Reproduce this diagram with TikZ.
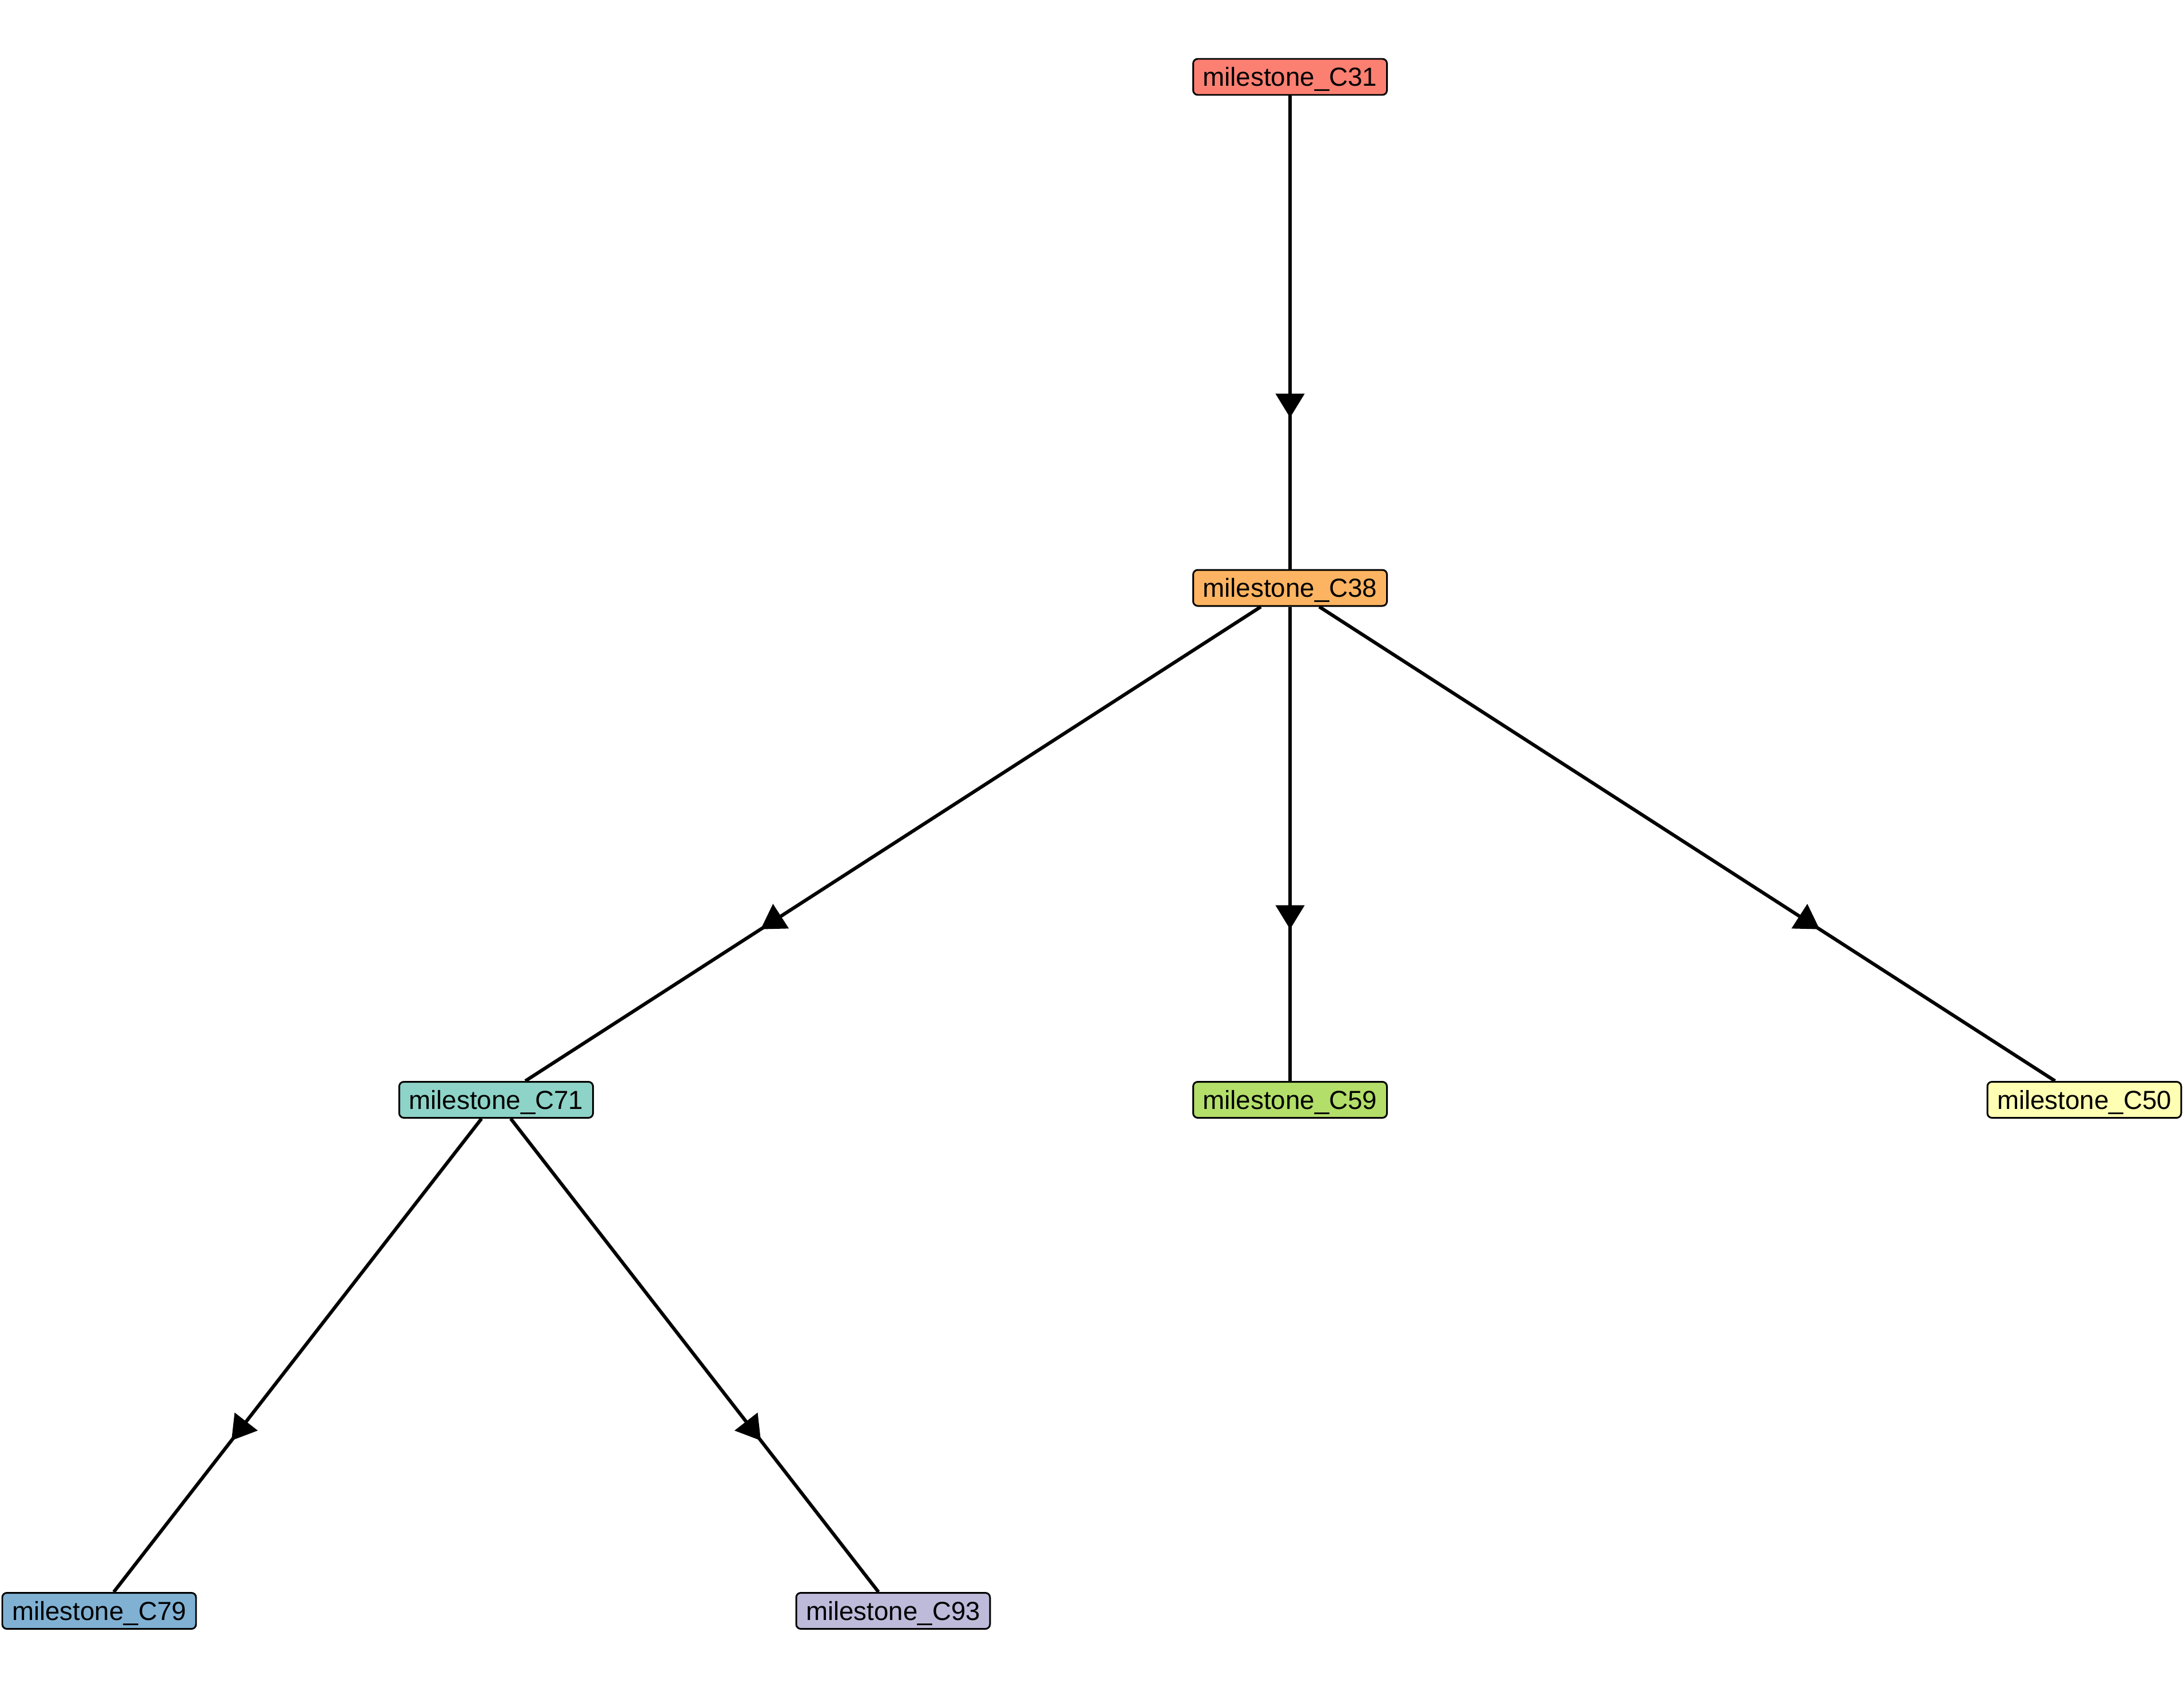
\documentclass[tikz,border=0pt]{standalone}
\usepackage{fontspec}
\setmainfont{Liberation Sans}
\usetikzlibrary{arrows.meta,calc}
\definecolor{cA}{HTML}{FB8072}
\definecolor{cB}{HTML}{FDB462}
\definecolor{cC}{HTML}{8DD3C7}
\definecolor{cD}{HTML}{B3DE69}
\definecolor{cE}{HTML}{FFFFB3}
\definecolor{cF}{HTML}{80B1D3}
\definecolor{cG}{HTML}{BEBADA}
\tikzset{
  ms/.style={draw=black, line width=0.85pt, rounded corners=0.08cm, minimum width=3.39cm, minimum height=0.63cm, inner sep=0pt, text height=9.3pt, text depth=0pt, font=\fontsize{13}{15}\selectfont},
  edge/.style={draw=black, line width=1.7pt},
  tipmark/.style={draw=black, line width=0.4pt, -{Triangle[length=0.42cm,width=0.51cm]}}
}
\newcommand{\mylink}[2]{%
  \draw[edge] (#1) -- (#2);
  \draw[tipmark] ($(#1.center)!0.60!(#2.center)$) -- ($(#1.center)!0.6667!(#2.center)$);
}
\begin{document}
\begin{tikzpicture}
\useasboundingbox (0,0) rectangle (38.21,-29.53);
\node[ms, fill=cA] (c31) at (22.57,-1.345) {milestone\_C31};
\node[ms, fill=cB] (c38) at (22.57,-10.285) {milestone\_C38};
\node[ms, fill=cC] (c71) at (8.68,-19.24) {milestone\_C71};
\node[ms, fill=cD] (c59) at (22.57,-19.24) {milestone\_C59};
\node[ms, fill=cE] (c50) at (36.465,-19.24) {milestone\_C50};
\node[ms, fill=cF] (c79) at (1.735,-28.18) {milestone\_C79};
\node[ms, fill=cG] (c93) at (15.625,-28.18) {milestone\_C93};
\mylink{c31}{c38}
\mylink{c38}{c71}
\mylink{c38}{c59}
\mylink{c38}{c50}
\mylink{c71}{c79}
\mylink{c71}{c93}
\end{tikzpicture}
\end{document}
